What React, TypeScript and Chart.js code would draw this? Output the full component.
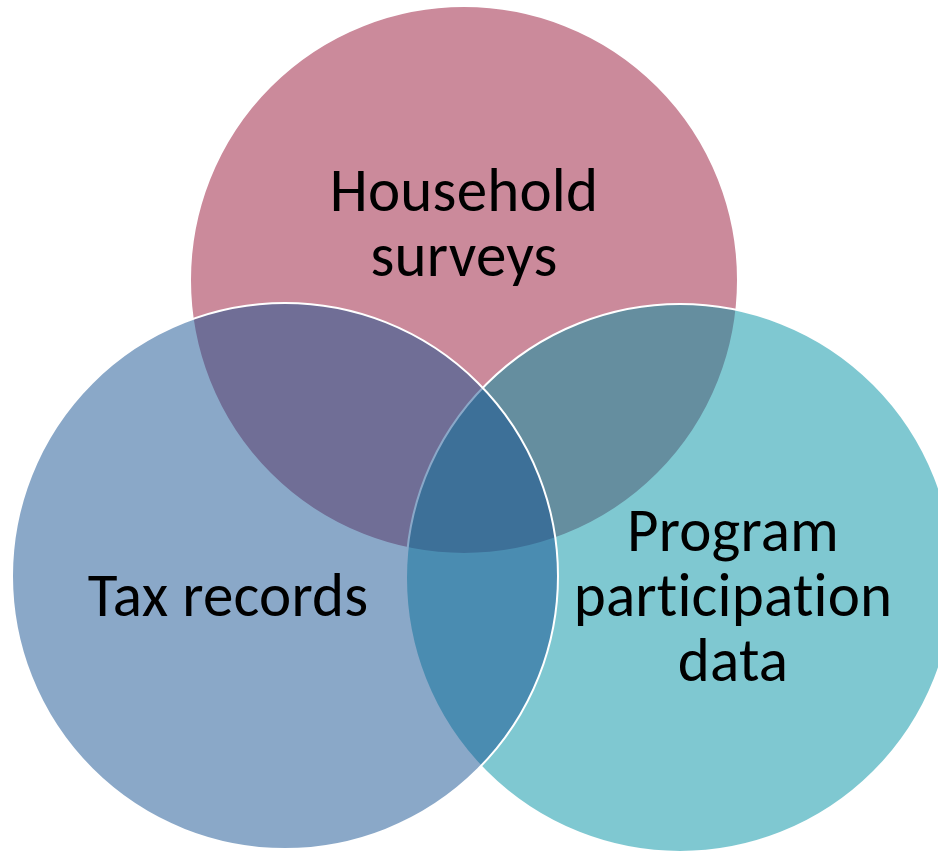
import React, { useEffect, useRef } from "react";
import { Chart, registerables } from "chart.js";

Chart.register(...registerables);

// Venn diagram data: three sets, drawn bottom to top
const SET_NAMES = ["Household surveys", "Program participation data", "Tax records"];
const SET_LINES = [["Household", "surveys"], ["Program", "participation", "data"], ["Tax records"]];
const CENTER_X = [464, 680, 285];
const CENTER_Y = [280, 578, 576];
const RADIUS = [274, 274, 273];

const FILLS = ["rgb(203,138,155)", "rgba(0,146,164,0.5)", "rgba(21,81,145,0.5)"];

const W = 938;
const H = 851;

const labelPlugin = {
  id: "vennLabels",
  afterDatasetsDraw(chart: any, _args: any, opts: any) {
    const meta = chart.getDatasetMeta(0);
    const ctx = chart.ctx;
    ctx.save();
    ctx.fillStyle = opts.color;
    ctx.font = `${opts.size}px ${opts.family}`;
    try {
      (ctx as any).letterSpacing = "0.2px";
    } catch (e) {}
    ctx.textAlign = "center";
    ctx.textBaseline = "alphabetic";
    meta.data.forEach((el: any, i: number) => {
      const lines = SET_LINES[i];
      const [dx, dy] = opts.offsets[i];
      const n = lines.length;
      lines.forEach((line: string, j: number) => {
        const y = el.y + dy + (j - (n - 1) / 2) * opts.lineHeight + opts.size * 0.32;
        ctx.fillText(line, el.x + dx, y);
      });
    });
    ctx.restore();
  },
};

export default function App() {
  const ref = useRef<HTMLCanvasElement | null>(null);

  useEffect(() => {
    document.body.style.margin = "0";
    const canvas = ref.current!;
    const chart = new Chart(canvas, {
      type: "scatter",
      data: {
        labels: SET_NAMES,
        datasets: [
          {
            label: "Sets",
            data: CENTER_X.map((x, i) => ({ x, y: CENTER_Y[i] })),
            showLine: false,
            clip: false as any,
            pointRadius: (c: any) => {
              const xs = c.chart.scales.x;
              return Math.abs(xs.getPixelForValue(RADIUS[c.dataIndex]) - xs.getPixelForValue(0));
            },
            pointBackgroundColor: FILLS,
            pointBorderColor: "#ffffff",
            pointBorderWidth: 2,
          } as any,
        ],
      },
      options: {
        responsive: false,
        animation: false,
        events: [],
        layout: { padding: 0 },
        scales: {
          x: { type: "linear", min: 0, max: W, display: false },
          y: { type: "linear", min: 0, max: H, reverse: true, display: false },
        },
        plugins: {
          legend: { display: false },
          tooltip: { enabled: false },
          vennLabels: {
            color: "#000000",
            size: 61,
            family: "Carlito, Lato, 'Open Sans', sans-serif",
            lineHeight: 65,
            offsets: [[0, -56], [53, 18], [-57, 20]],
          },
        } as any,
      },
      plugins: [labelPlugin],
    });
    return () => chart.destroy();
  }, []);

  return (
    <div style={{ position: "fixed", left: 0, top: 0, width: W, height: H, background: "#ffffff" }}>
      <canvas ref={ref} width={W} height={H} style={{ display: "block", width: W, height: H }} />
    </div>
  );
}
